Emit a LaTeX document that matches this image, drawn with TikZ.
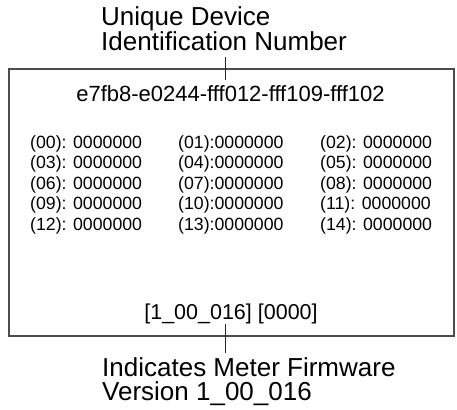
\documentclass[tikz,border=0pt]{standalone}
\usepackage{fontspec}
\setmainfont{Liberation Sans}
\usetikzlibrary{positioning}

\tikzset{
  labeltext/.style={inner sep=0pt, align=left, anchor=north west,
    font=\fontsize{26}{24.5}\selectfont},
  idtext/.style={inner sep=0pt, anchor=base, font=\fontsize{22}{24}\selectfont},
  regtext/.style={inner sep=0pt, anchor=base west, font=\fontsize{17.7}{20}\selectfont},
  frame/.style={draw=black!70, line width=1.3pt},
  tick/.style={draw=black!85, line width=0.8pt},
}

\begin{document}
\begin{tikzpicture}[x=1pt,y=-1pt]
\useasboundingbox (0,0) rectangle (457,409);
\draw[frame] (9,69) rectangle (454,336);

% callout labels
\node[labeltext] (uid) at (101,6.5) {Unique Device\\Identification Number};
\node[labeltext] (fwlabel) at (102,357) {Indicates Meter Firmware\\Version 1\_00\_016};

% device id and firmware line
\node[idtext] (hex) at (230.5,102) {e7fb8-e0244-fff012-fff109-fff102};
\node[idtext, font=\fontsize{21.5}{24}\selectfont] (fw) at (231,319) {[1\_00\_016] [0000]};

% registers
\node[regtext] (r00) at (30,148) {(00): 0000000};
\node[regtext] (r01) at (178,148) {(01):0000000};
\node[regtext] (r02) at (320,148) {(02): 0000000};
\node[regtext] (r03) at (30,168.5) {(03): 0000000};
\node[regtext] (r04) at (178,168.5) {(04):0000000};
\node[regtext] (r05) at (320,168.5) {(05): 0000000};
\node[regtext] (r06) at (30,189) {(06): 0000000};
\node[regtext] (r07) at (178,189) {(07):0000000};
\node[regtext] (r08) at (320,189) {(08): 0000000};
\node[regtext] (r09) at (30,209.5) {(09): 0000000};
\node[regtext] (r10) at (178,209.5) {(10):0000000};
\node[regtext] (r11) at (320,209.5) {(11): 0000000};
\node[regtext] (r12) at (30,230) {(12): 0000000};
\node[regtext] (r13) at (178,230) {(13):0000000};
\node[regtext] (r14) at (320,230) {(14): 0000000};

% ticks
\coordinate (tickx) at (225,0);
\draw[tick] ([yshift=-7pt]uid.south -| tickx) -- ([yshift=6pt]hex.north -| tickx);
\draw[tick] (fw.south -| tickx) -- ([yshift=4pt]fwlabel.north -| tickx);
\end{tikzpicture}
\end{document}
